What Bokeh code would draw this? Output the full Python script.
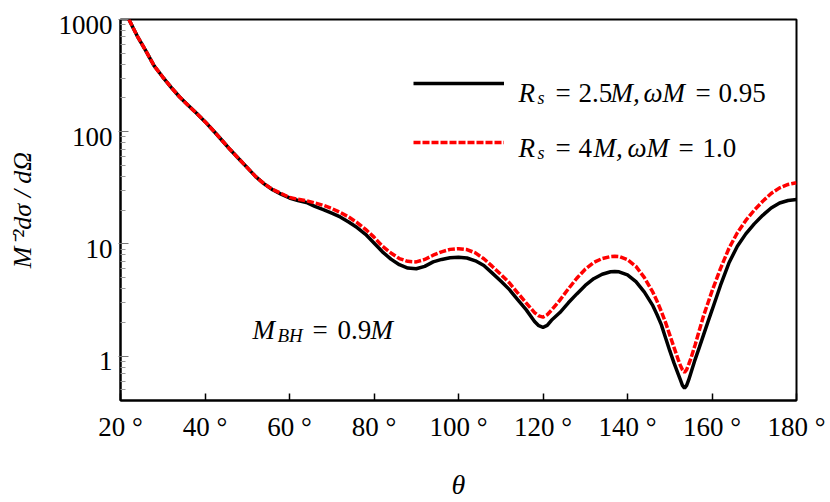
from bokeh.plotting import figure
from bokeh.models import Range1d, FixedTicker, Legend, LegendItem, Label, LogAxis, LogScale
from bokeh.embed import file_html
from bokeh.resources import INLINE

# ---------------- data ----------------
theta = [22, 23, 24, 26, 28, 30, 32, 34, 36, 38, 40, 42, 44, 46, 48, 50, 52, 54, 56, 58,
         60, 62, 64, 66, 68, 70, 72, 74, 76, 78, 80, 82, 84, 86, 88, 90, 92, 94, 96, 98,
         100, 102, 104, 106, 108, 110, 112, 114, 116, 118, 119, 120, 121, 122, 124, 126,
         128, 130, 132, 134, 136, 137, 138, 140, 142, 144, 146, 147, 148, 149, 150, 151,
         152, 152.5, 153, 153.5, 154, 154.5, 155, 156, 157, 158, 159, 160, 162, 164, 166,
         168, 170, 172, 174, 176, 178, 180]

# R_s = 2.5M, omega M = 0.95  (black, solid)
dsigma_rs25 = [1000, 841, 708, 525, 385, 307, 248, 204, 172, 146, 123, 102, 84, 69, 57.4, 47.9,
               39.8, 34.3, 30.4, 27.8, 25.7, 24.4, 23.4, 21.6, 20.2, 18.8, 17.4, 15.7, 14.0,
               12.2, 10.2, 8.51, 7.33, 6.53, 6.1, 6.01, 6.31, 6.92, 7.28, 7.55, 7.62, 7.5,
               7.08, 6.43, 5.5, 4.68, 3.94, 3.2, 2.6, 2.04, 1.87, 1.81, 1.88, 2.09, 2.45, 2.99,
               3.59, 4.27, 4.9, 5.37, 5.65, 5.69, 5.65, 5.31, 4.62, 3.72, 2.82, 2.34, 1.91,
               1.46, 1.12, 0.871, 0.692, 0.617, 0.55, 0.519, 0.55, 0.617, 0.708, 0.933, 1.2,
               1.55, 2.0, 2.57, 4.27, 6.76, 9.55, 12.3, 15.1, 18.0, 20.9, 23.2, 24.4, 24.9]

# R_s = 4M, omega M = 1.0  (red, dashed)
dsigma_rs4 = [1000, 841, 708, 525, 385, 307, 248, 204, 172, 146, 123, 102, 84, 69, 57.4, 47.9,
              39.8, 34.3, 30.6, 28.2, 26.0, 25.0, 24.3, 23.2, 22.1, 20.7, 19.1, 17.4, 15.5,
              13.5, 11.5, 9.55, 8.32, 7.41, 7.0, 6.92, 7.28, 7.94, 8.51, 8.95, 9.08, 8.91,
              8.32, 7.38, 6.31, 5.37, 4.52, 3.67, 2.99, 2.45, 2.29, 2.23, 2.34, 2.57, 3.16,
              3.98, 4.95, 5.96, 6.84, 7.41, 7.73, 7.78, 7.73, 7.24, 6.31, 5.01, 3.72, 3.09,
              2.51, 2.0, 1.55, 1.2, 0.933, 0.832, 0.759, 0.719, 0.759, 0.851, 0.955, 1.26,
              1.7, 2.29, 2.95, 3.8, 6.03, 9.12, 12.6, 16.2, 20.0, 24.0, 28.2, 31.6, 33.9, 35.1]

x_ticks = [20, 40, 60, 80, 100, 120, 140, 160, 180]
x_tick_labels = ["20 °", "40 °", "60 °", "80 °", "100 °", "120 °", "140 °", "160 °", "180 °"]
y_ticks = [1, 10, 100, 1000]
y_tick_labels = ["1", "10", "100", "1000"]

FONT = "'Liberation Serif'"
Y0, Y1 = 0.403, 1000

p = figure(width=830, height=502, y_axis_type="log",
           x_range=Range1d(20, 180), y_range=Range1d(Y0, Y1),
           output_backend="svg", toolbar_location=None,
           min_border_left=120, min_border_right=34, min_border_top=19, min_border_bottom=102)
p.grid.visible = False
p.outline_line_color = "black"
p.outline_line_width = 2
p.background_fill_color = "white"
p.border_fill_color = "white"

# x axis
p.xaxis.ticker = FixedTicker(ticks=x_ticks)
p.xaxis.major_label_overrides = dict(zip(x_ticks, x_tick_labels))
p.xaxis.major_tick_in = 7
p.xaxis.major_tick_out = 0
p.xaxis.major_tick_line_width = 1.5
p.xaxis.major_tick_line_color = "black"
p.xaxis.minor_tick_line_color = None
p.xaxis.axis_line_width = 2
p.xaxis.axis_line_color = "black"
p.xaxis.major_label_text_font = FONT
p.xaxis.major_label_text_font_size = "27px"
p.xaxis.major_label_text_color = "black"
p.xaxis.major_label_standoff = 11
p.xaxis.axis_label = "θ"
p.xaxis.axis_label_text_font = FONT
p.xaxis.axis_label_text_font_style = "italic"
p.xaxis.axis_label_text_font_size = "28px"
p.xaxis.axis_label_text_color = "black"
p.xaxis.axis_label_standoff = 24

# y axis: ticks on the data range
minor = [m * 10.0 ** e for e in range(-1, 3) for m in range(2, 10)]
minor = [v for v in minor if Y0 <= v <= Y1]
p.yaxis.ticker = FixedTicker(ticks=y_ticks, minor_ticks=minor)
p.yaxis.major_tick_in = 8
p.yaxis.major_tick_out = 2
p.yaxis.major_tick_line_color = "#777777"
p.yaxis.major_tick_line_width = 1
p.yaxis.minor_tick_in = 5
p.yaxis.minor_tick_out = 0
p.yaxis.minor_tick_line_color = "#999999"
p.yaxis.axis_line_width = 2
p.yaxis.axis_line_color = "black"
p.yaxis.major_label_text_color = None
p.yaxis.major_label_standoff = 0

# y tick labels + title on a companion axis whose labels sit a few px below each tick
lab_shift = 10 ** (5 / 112.2)
p.extra_y_ranges = {"ylab": Range1d(Y0 * lab_shift, Y1 * lab_shift)}
p.extra_y_scales = {"ylab": LogScale()}
lab_axis = LogAxis(y_range_name="ylab", ticker=FixedTicker(ticks=y_ticks, minor_ticks=[]),
                   major_label_overrides=dict(zip(y_ticks, y_tick_labels)),
                   axis_line_color=None, major_tick_line_color=None, minor_tick_line_color=None,
                   major_tick_in=0, major_tick_out=0, minor_tick_in=0, minor_tick_out=0,
                   major_label_standoff=6, major_label_text_font=FONT,
                   major_label_text_font_size="27px", major_label_text_color="black",
                   axis_label="M⁻²dσ / dΩ", axis_label_text_font=FONT,
                   axis_label_text_font_style="italic", axis_label_text_font_size="26px",
                   axis_label_text_color="black", axis_label_standoff=19)
p.add_layout(lab_axis, "left")

# curves
r_black = p.line(theta, dsigma_rs25, line_color="black", line_width=3.5)
r_red = p.line(theta, dsigma_rs4, line_color="#ff0000", line_width=3.5, line_dash="7 2")

legend = Legend(items=[LegendItem(label=" ", renderers=[r_black]),
                       LegendItem(label=" ", renderers=[r_red])],
                location=(293, 238), glyph_width=91, glyph_height=40, label_height=40,
                label_width=5, spacing=19, padding=0, margin=0,
                border_line_alpha=0, background_fill_alpha=0,
                label_text_font_size="25px")
p.add_layout(legend, "center")

# frame: page x 120..796, page y 19..400
def add_text(text, xp, yp, size, italic=False):
    p.add_layout(Label(x=xp - 120, y=400 - yp, x_units="screen", y_units="screen",
                       text=text, text_font=FONT, text_font_size=f"{size}px",
                       text_font_style="italic" if italic else "normal",
                       text_color="black", text_align="left", text_baseline="alphabetic"))

# legend texts
for parts, yb in (([("R", 518, 27, True), ("s", 537, 18, True), ("=", 555, 27, False),
                    ("2.5", 578, 27, False), ("M,", 610, 27, True), ("ωM", 643, 27, True),
                    ("=", 695, 27, False), ("0.95", 718, 27, False)], 92),
                  ([("R", 518, 27, True), ("s", 537, 18, True), ("=", 555, 27, False),
                    ("4", 578, 27, False), ("M,", 593, 27, True), ("ωM", 627, 27, True),
                    ("=", 678, 27, False), ("1.0", 702, 27, False)], 147)):
    for t, xp, sz, it in parts:
        add_text(t, xp, yb + (5 if sz < 20 else 0), sz, it)

# M_BH annotation
add_text("M", 252, 329, 27, True)
add_text("BH", 277, 335, 19, True)
add_text("=", 312, 329, 27)
add_text("0.9", 337, 329, 27)
add_text("M", 370, 329, 27, True)

open("out.html", "w").write(file_html(p, INLINE))
